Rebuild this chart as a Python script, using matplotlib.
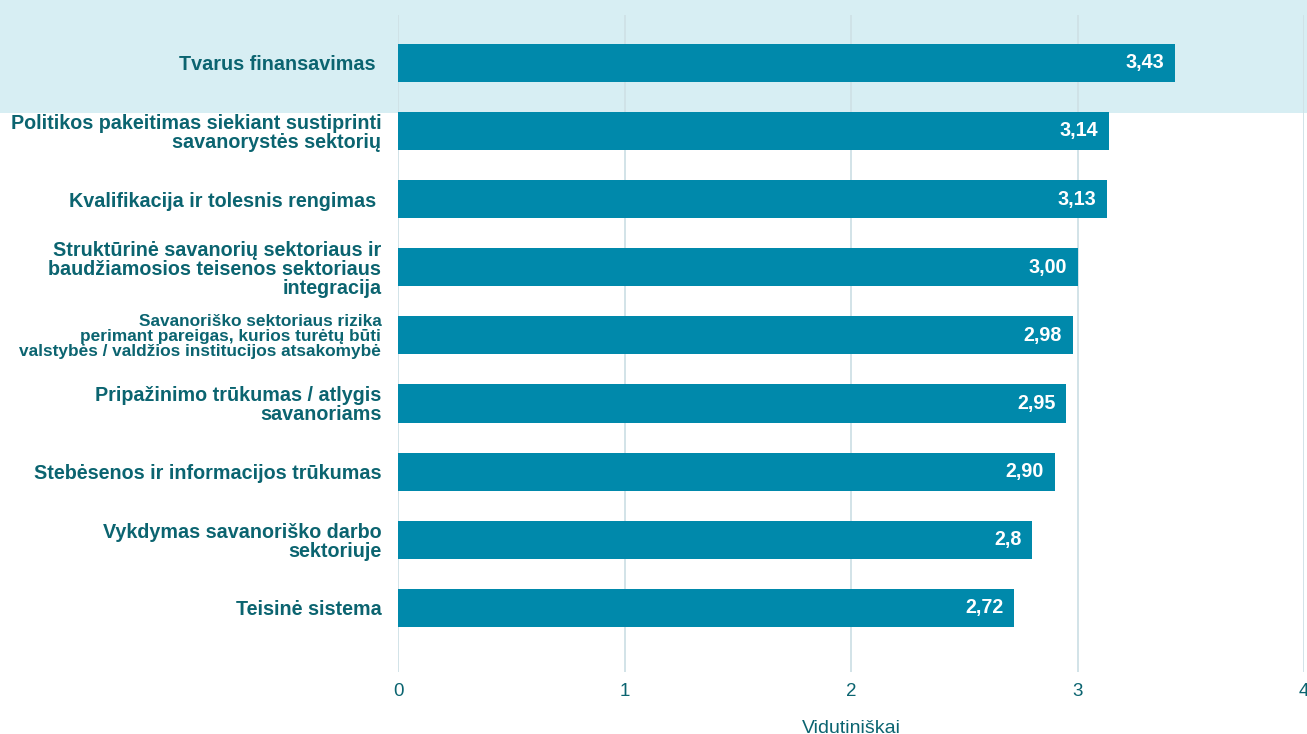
import matplotlib.pyplot as plt
from matplotlib.patches import Rectangle

# average scores per barrier
labels = [
    "Tvarus finansavimas ",
    "Politikos pakeitimas siekiant sustiprinti\nsavanorystės sektorių",
    "Kvalifikacija ir tolesnis rengimas ",
    "Struktūrinė savanorių sektoriaus ir\nbaudžiamosios teisenos sektoriaus\nintegracija",
    "Savanoriško sektoriaus rizika\nperimant pareigas, kurios turėtų būti\nvalstybės / valdžios institucijos atsakomybė",
    "Pripažinimo trūkumas / atlygis\nsavanoriams",
    "Stebėsenos ir informacijos trūkumas",
    "Vykdymas savanoriško darbo\nsektoriuje",
    "Teisinė sistema",
]
values = [3.43, 3.14, 3.13, 3.00, 2.98, 2.95, 2.90, 2.8, 2.72]
value_text = ["3,43", "3,14", "3,13", "3,00", "2,98", "2,95", "2,90", "2,8", "2,72"]
small_label = 4  # the long one is set smaller

bar_color = "#0089ab"
text_color = "#0b6470"
grid_color = "#cfe1e6"
band_color = "#d7eef3"

plt.rcParams["font.family"] = ["Liberation Sans", "DejaVu Sans"]

W, H = 1307, 734
fig = plt.figure(figsize=(W / 100, H / 100), dpi=100)

# highlight strip behind the first row
fig.patches.append(Rectangle((0, 1 - 113 / H), 1, 113 / H, transform=fig.transFigure,
                             facecolor=band_color, edgecolor="none", zorder=0))

ax = fig.add_axes([398 / W, (H - 672) / H, 906 / W, 657 / H])
ax.set_facecolor("none")
ax.set_zorder(1)

ypos = list(range(len(values)))
ax.barh(ypos, values, height=0.56, color=bar_color, zorder=3)

for y, v, t in zip(ypos, values, value_text):
    ax.text(v - 0.048, y, t, ha="right", va="center", color="white",
            fontsize=14.2, fontweight="bold", zorder=4)

ax.set_xlim(0, 4)
ax.set_ylim(len(values) - 1 + 0.94, -0.70)
ax.set_xticks([0, 1, 2, 3, 4])
ax.set_xticklabels(["0", "1", "2", "3", "4"], color=text_color, fontsize=13.5)
ax.set_yticks(ypos)
ax.set_yticklabels(labels, fontweight="bold", color=text_color, fontsize=14.2,
                   linespacing=1.0)
ax.get_yticklabels()[small_label].set_fontsize(12.4)
ax.tick_params(axis="y", length=0, pad=12)
ax.tick_params(axis="x", length=0, pad=8)
ax.grid(axis="x", color=grid_color, linewidth=1.3, zorder=1)
for s in ax.spines.values():
    s.set_visible(False)

ax.set_xlabel("Vidutiniškai", color=text_color, fontsize=14, labelpad=14)

fig.savefig("out.png", dpi=100)
